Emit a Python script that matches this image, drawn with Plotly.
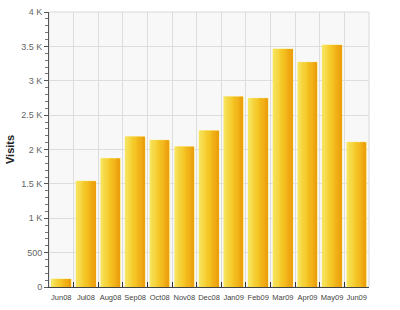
import plotly.graph_objects as go

months = ["Jun08", "Jul08", "Aug08", "Sep08", "Oct08", "Nov08", "Dec08",
          "Jan09", "Feb09", "Mar09", "Apr09", "May09", "Jun09"]
visits = [116, 1540, 1870, 2186, 2134, 2041, 2273, 2768, 2744, 3462, 3268, 3520, 2105]
y_tickvals = [0, 500, 1000, 1500, 2000, 2500, 3000, 3500, 4000]
y_ticktext = ["0", "500", "1 K", "1.5 K", "2 K", "2.5 K", "3 K", "3.5 K", "4 K"]

def lerp(c1, c2, t):
    return tuple(round(a + (b - a) * t) for a, b in zip(c1, c2))

stops = [(0.0, (246, 230, 96)), (0.5, (245, 198, 36)), (1.0, (236, 158, 12))]
def grad(t):
    for (t0, c0), (t1, c1) in zip(stops, stops[1:]):
        if t <= t1:
            return lerp(c0, c1, (t - t0) / (t1 - t0))
    return stops[-1][1]

fig = go.Figure()
W = 0.8
fig.add_trace(go.Bar(x=months, y=visits, width=W, offset=-W / 2,
                     marker=dict(color="rgb(250,236,150)", line=dict(color="rgb(250,236,150)", width=1)),
                     hoverinfo="skip", showlegend=False))
N = 16
inner = W - 0.04
for i in range(N):
    c = grad((i + 0.5) / N)
    fig.add_trace(go.Bar(x=months, y=visits, width=inner / N + 0.002,
                         offset=-inner / 2 + i * inner / N,
                         marker=dict(color="rgb(%d,%d,%d)" % c, line=dict(width=0)),
                         hoverinfo="skip", showlegend=False))

fig.update_layout(
    width=400, height=310, barmode="overlay",
    margin=dict(l=49, r=31, t=12, b=23, autoexpand=False),
    paper_bgcolor="white", plot_bgcolor="#f8f8f8",
    font=dict(family="Liberation Sans, Arial, sans-serif", color="#444"),
    xaxis=dict(tickson="boundaries", ticks="inside", ticklen=5, tickcolor="#333",
               showgrid=True, gridcolor="#dddddd", gridwidth=1,
               showline=True, linecolor="#444", linewidth=1,
               tickangle=0, automargin=False, ticklabelstandoff=3,
               tickfont=dict(size=7.5, color="#444"), fixedrange=True),
    yaxis=dict(range=[0, 4000], tickvals=y_tickvals, ticktext=y_ticktext,
               ticks="outside", ticklen=4, tickcolor="#555",
               minor=dict(dtick=100, ticks="outside", ticklen=3, tickcolor="#777", showgrid=False),
               showgrid=True, gridcolor="#dddddd", gridwidth=1,
               showline=True, linecolor="#555", linewidth=1, zeroline=False,
               automargin=False,
               tickfont=dict(size=9, color="#666"),
               title=dict(text="<b>Visits</b>", font=dict(size=11, color="#222"), standoff=4)),
)
fig.add_shape(type="rect", xref="paper", yref="paper", x0=0, x1=1, y0=0, y1=1,
              line=dict(color="#d8d8d8", width=1), layer="below")
fig.write_html("out.html")
